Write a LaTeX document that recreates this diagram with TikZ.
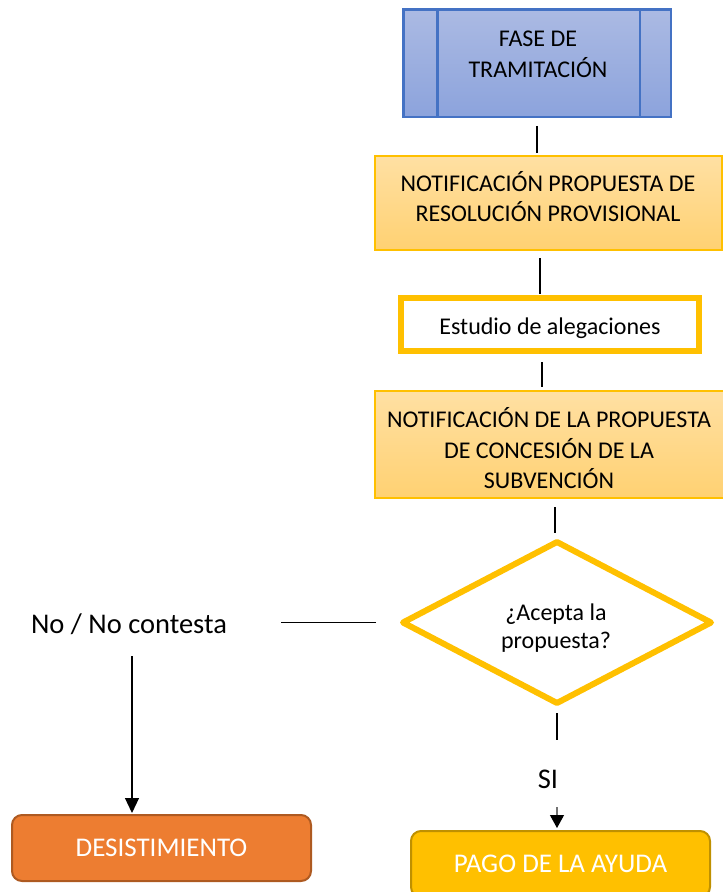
\documentclass[tikz,border=0pt]{standalone}
\usepackage{fontspec}
\setmainfont{Carlito}
\usetikzlibrary{shapes.geometric,arrows.meta}
\definecolor{bluetop}{HTML}{ABBAE3}
\definecolor{bluebot}{HTML}{8CA3DC}
\definecolor{blueline}{HTML}{4472C4}
\definecolor{goldtop}{HTML}{FFE0A3}
\definecolor{goldbot}{HTML}{FFD172}
\definecolor{gold}{HTML}{FFC000}
\definecolor{orangefill}{HTML}{ED7D31}
\definecolor{orangeline}{HTML}{AE5A21}
\definecolor{goldline}{HTML}{BF9000}
\begin{document}
\begin{tikzpicture}[x=1pt,y=-1pt,
  txt/.style={font=\fontsize{24}{30.5}\selectfont, align=center, inner sep=0pt, outer sep=0pt},
  bigtxt/.style={font=\fontsize{28.5}{34}\selectfont, inner sep=0pt, outer sep=0pt},
  phasebox/.style={rectangle, draw=blueline, line width=2.5pt, top color=bluetop, bottom color=bluebot, inner sep=0pt, outer sep=0pt},
  notebox/.style={rectangle, draw=gold, line width=1.2pt, top color=goldtop, bottom color=goldbot, inner sep=0pt, outer sep=0pt},
  studybox/.style={rectangle, draw=gold, line width=6pt, fill=white, inner sep=0pt, outer sep=0pt, font=\fontsize{24}{30}\selectfont, text height=25pt, text depth=5pt},
  decision/.style={diamond, draw=gold, line width=6pt, line join=round, fill=white, inner sep=0pt, outer sep=0pt},
  endbox/.style={rectangle, rounded corners=10pt, line width=2pt, inner sep=0pt, outer sep=0pt, text=white, font=\fontsize{27}{32}\selectfont},
  conn/.style={draw=black, line width=1.1pt},
  arr/.style={draw=black, line width=1.1pt, -{Triangle[length=15pt,width=14pt]}},
  sia/.style={draw=black!55, line width=1.1pt, -{Triangle[length=13pt,width=14pt,color=black]}}
]
\useasboundingbox (0,0) rectangle (723,892);

% boxes
\node[phasebox, minimum width=267.5, minimum height=107.5] (b1) at (537,63) {};
\draw[blueline, line width=2.5pt] ([xshift=34pt]b1.north west) -- ([xshift=34pt]b1.south west);
\draw[blueline, line width=2.5pt] ([xshift=-31pt]b1.north east) -- ([xshift=-31pt]b1.south east);
\node[txt] (b1t) at (538,54.3) {FASE DE\\TRAMITACIÓN};

\node[notebox, minimum width=347, minimum height=94] (b2) at (548.5,203) {};
\node[txt] (b2t) at (548,196.8) {NOTIFICACIÓN PROPUESTA DE\\RESOLUCIÓN PROVISIONAL};

\node[studybox, minimum width=298, minimum height=53] (est) at (550,324.5) {Estudio de alegaciones};

\node[notebox, minimum width=349, minimum height=107] (b3) at (549.5,444.5) {};
\node[txt] (b3t) at (549,448.3) {NOTIFICACIÓN DE LA PROPUESTA\\DE CONCESIÓN DE LA\\SUBVENCIÓN};

\node[decision, minimum width=308, minimum height=161] (dia) at (557,622.5) {};
\node[txt, font=\fontsize{24}{28.5}\selectfont] (diat) at (556,628) {¿Acepta la\\propuesta?};

\node[bigtxt] (no) at (129,624.5) {No / No contesta};
\node[bigtxt] (si) at (548,779) {SI};

\node[endbox, fill=orangefill, draw=orangeline, minimum width=299, minimum height=66] (des) at (161.5,848) {DESISTIMIENTO};
\node[endbox, fill=gold, draw=goldline, minimum width=299, minimum height=66] (pago) at (560.5,864) {PAGO DE LA AYUDA};

% connectors
\draw[conn, shorten <=9pt, shorten >=3pt] (b1.south) -- (b1.south |- b2.north);
\draw[conn, shorten <=8pt, shorten >=4pt] ([xshift=-8.5pt]b2.south) -- ([xshift=-8.5pt]b2.south |- est.north);
\draw[conn, shorten <=11pt, shorten >=4pt] ([xshift=-8pt]est.south) -- ([xshift=-8pt]est.south |- b3.north);
\draw[conn, shorten <=9pt, shorten >=9pt] ([xshift=5.5pt]b3.south) -- ([xshift=5.5pt]b3.south |- dia.north);
\draw[conn, shorten <=10pt, shorten >=30pt] (dia.south) -- (dia.south |- si.north);
\draw[sia, shorten <=19pt, shorten >=3pt] (dia.south |- si.south) -- (dia.south |- pago.north);
\draw[conn, shorten <=27pt, shorten >=54pt] (dia.west) -- (dia.west -| no.east);
\draw[arr, shorten <=21pt, shorten >=2pt] ([xshift=3pt]no.south) -- ([xshift=3pt]no.south |- des.north);
\end{tikzpicture}
\end{document}
